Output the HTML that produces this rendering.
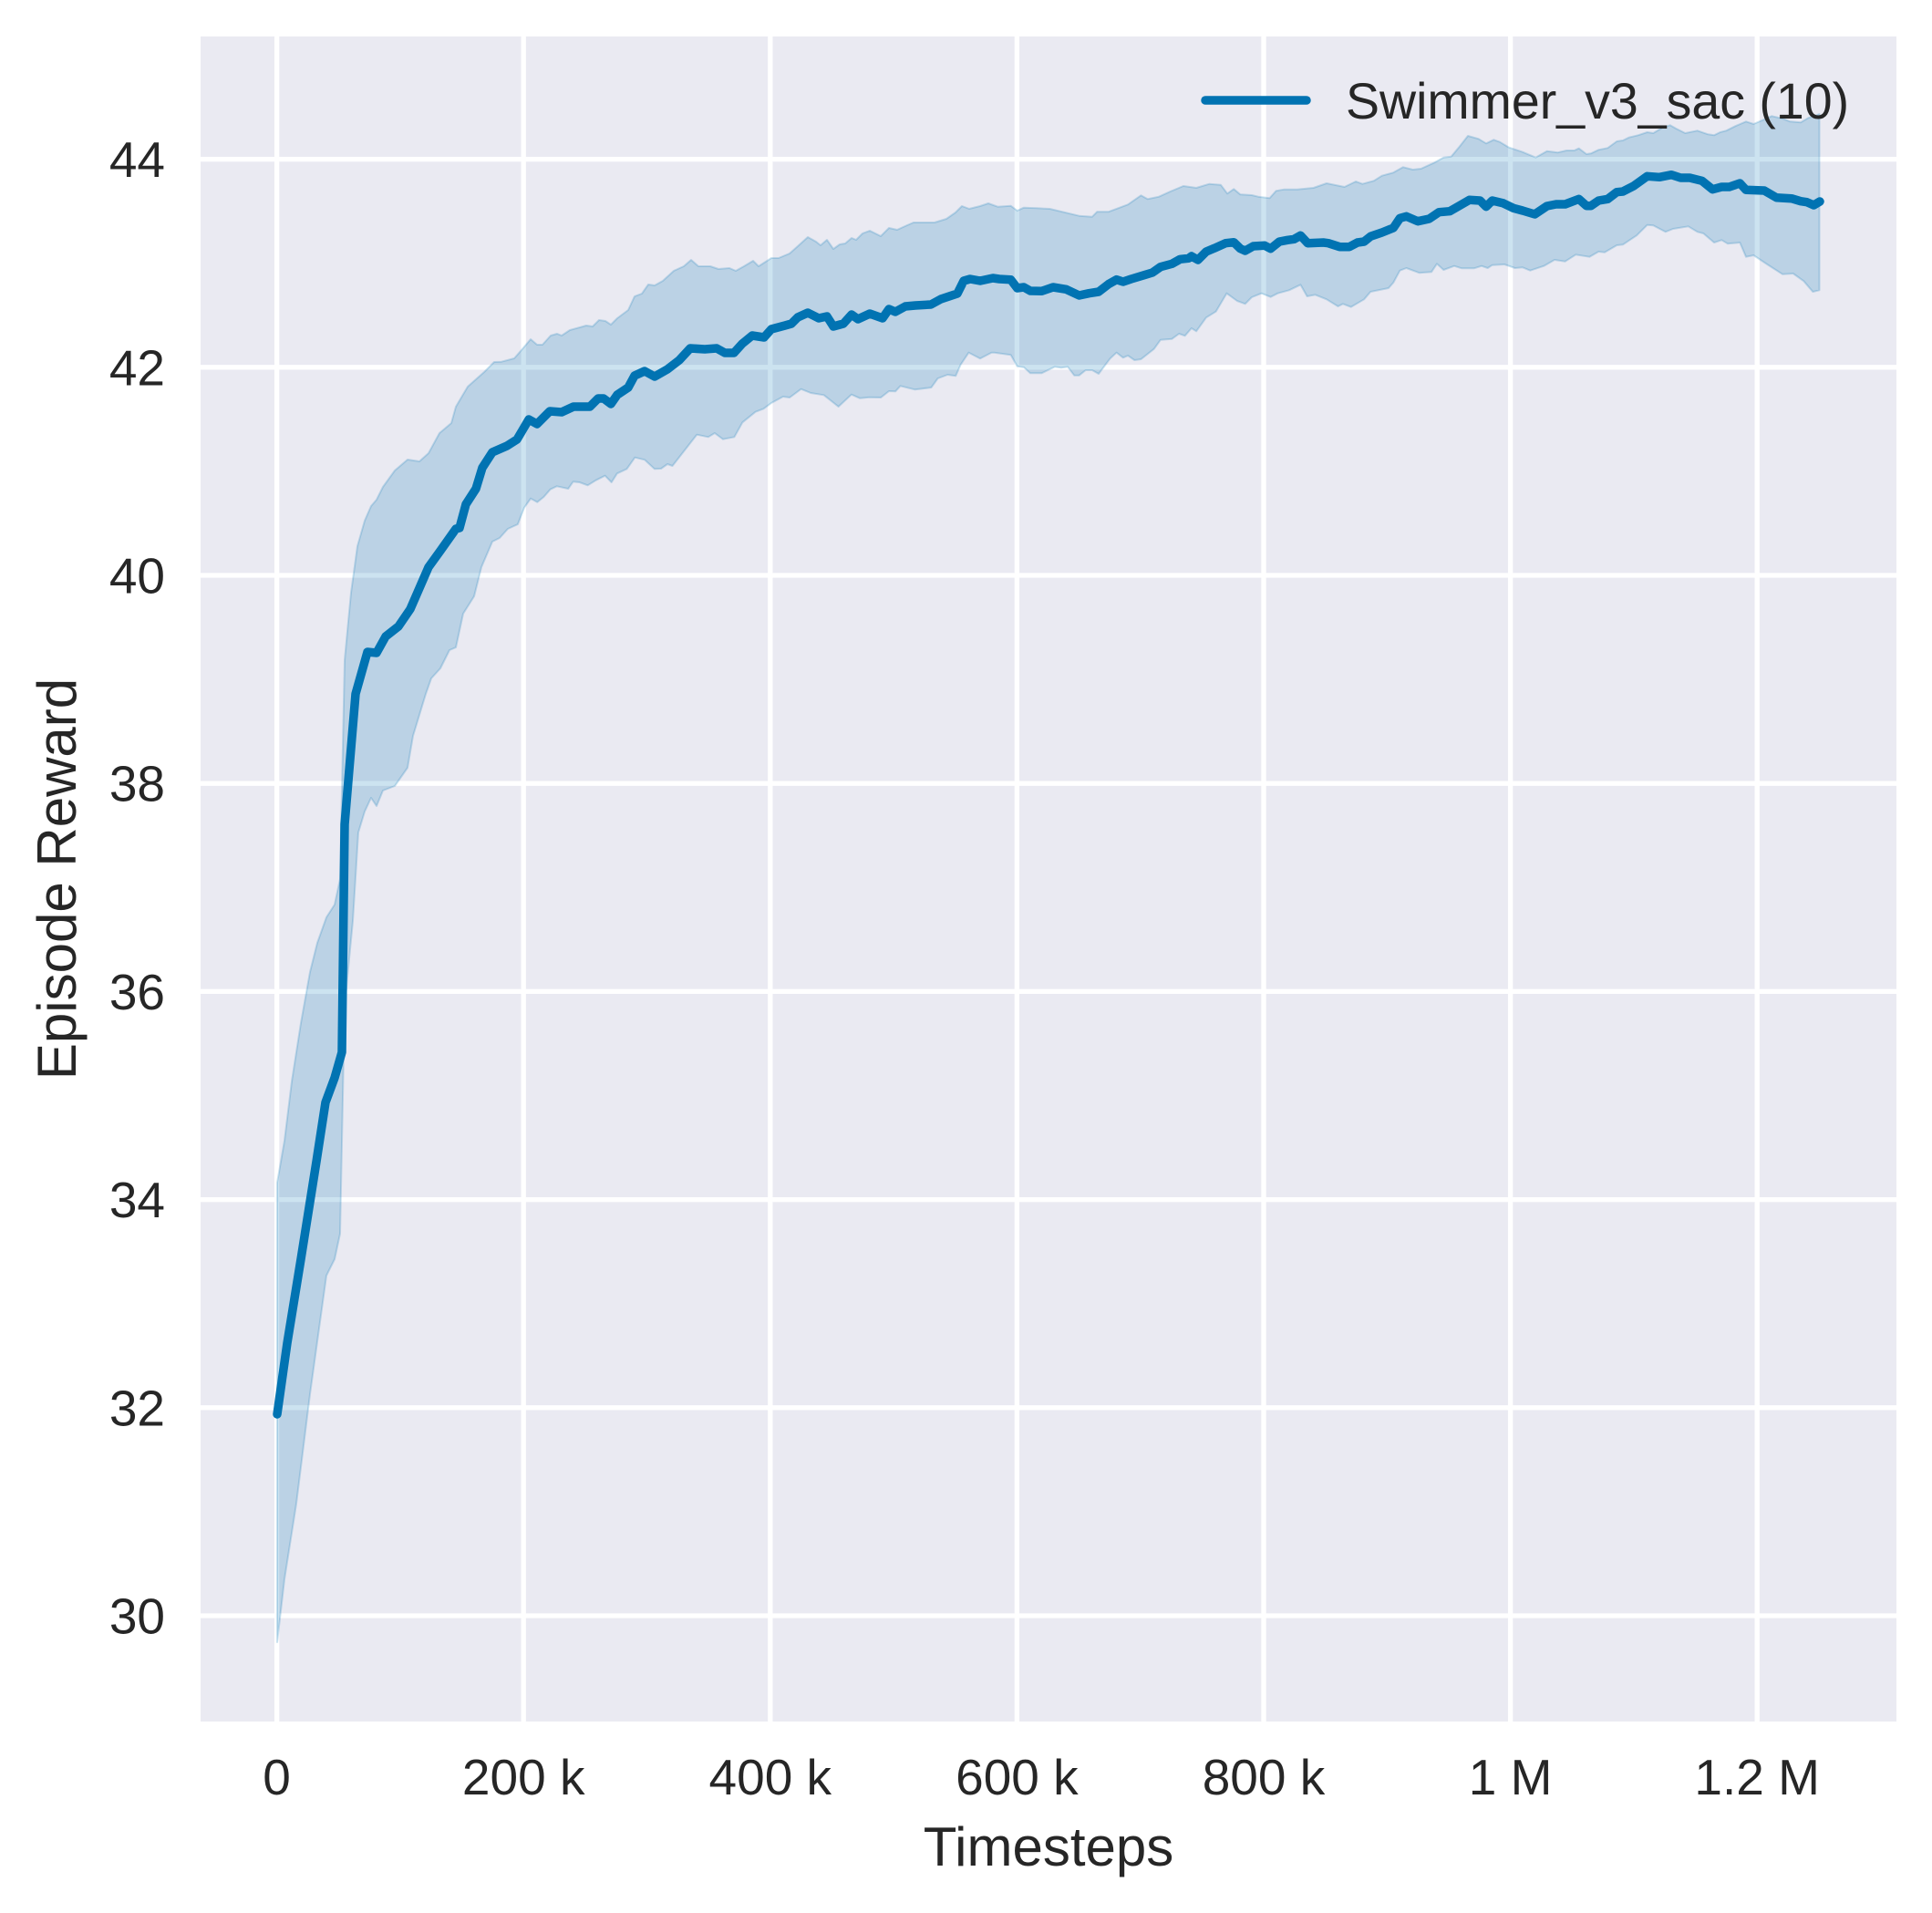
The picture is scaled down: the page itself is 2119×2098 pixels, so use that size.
<!DOCTYPE html>
<html>
<head>
<meta charset="utf-8">
<style>
  html, body { margin: 0; padding: 0; background: #ffffff; }
  svg { display: block; }
  text { font-family: "Liberation Sans", "DejaVu Sans", sans-serif; fill: #262626; }
</style>
</head>
<body>
<svg width="2119" height="2098" viewBox="0 0 2119 2098" xmlns="http://www.w3.org/2000/svg">
  <rect x="0" y="0" width="2119" height="2098" fill="#ffffff"/>
  <defs>
    <clipPath id="ax"><rect x="220" y="40" width="1860" height="1848"/></clipPath>
  </defs>
  <!-- axes background -->
  <rect x="220" y="40" width="1860" height="1848" fill="#EAEAF2"/>
  <!-- grid -->
  <g stroke="#ffffff" stroke-width="5.3" clip-path="url(#ax)">
    <line x1="220" x2="2080" y1="1772" y2="1772"/>
    <line x1="220" x2="2080" y1="1543.8" y2="1543.8"/>
    <line x1="220" x2="2080" y1="1315.6" y2="1315.6"/>
    <line x1="220" x2="2080" y1="1087.4" y2="1087.4"/>
    <line x1="220" x2="2080" y1="859.2" y2="859.2"/>
    <line x1="220" x2="2080" y1="631" y2="631"/>
    <line x1="220" x2="2080" y1="402.8" y2="402.8"/>
    <line x1="220" x2="2080" y1="174.6" y2="174.6"/>
    <line y1="40" y2="1888" x1="303.6" x2="303.6"/>
    <line y1="40" y2="1888" x1="574.2" x2="574.2"/>
    <line y1="40" y2="1888" x1="844.8" x2="844.8"/>
    <line y1="40" y2="1888" x1="1115.4" x2="1115.4"/>
    <line y1="40" y2="1888" x1="1386" x2="1386"/>
    <line y1="40" y2="1888" x1="1656.6" x2="1656.6"/>
    <line y1="40" y2="1888" x1="1927.2" x2="1927.2"/>
  </g>

  <g clip-path="url(#ax)">
    <!-- confidence band -->
    <path fill="#0173b2" fill-opacity="0.2" stroke="#0173b2" stroke-opacity="0.2" stroke-width="2" stroke-linejoin="round" d="
M304,1297 L312,1251 L320,1186 L330,1122 L340,1066 L348,1034 L358,1006 L367,992 L373,964 L378,724 L385,650 L392,599 L400,571 L407,555 L413,548 L420,534 L433,516 L447,504 L460,506 L470,497 L482,475 L495,464 L500,446 L513,424 L531,408 L542,397 L550,396.7 L564,393 L571,385 L582,372 L589,378 L595,378 L604,368 L611,366 L616,368 L625,362 L636,359 L643,357 L650,358 L657,351 L664,352 L670,356 L677,349 L689,340 L696,325 L704,322 L711,312 L718,313 L727,308 L739,297 L750,292 L758,285 L766,292 L779,292 L788,295 L800,294 L807,297 L816,292 L826,286 L832,292 L846,283 L854,283 L866,278 L875,270 L886,260 L895,265 L900,269 L907,263 L914,273 L921,268 L927,267 L934,261 L939,263 L946,256 L954,253 L966,259 L975,250 L984,252 L995,247 L1002,244 L1025,244 L1038,240 L1048,233 L1055,226 L1063,229 L1075,226 L1084,223 L1094.3,226.7 L1108.6,225.7 L1115.7,231 L1122.9,227.7 L1137.1,228.3 L1151.4,229 L1169.3,233.3 L1183.6,236.7 L1197.9,237.7 L1203.2,232.3 L1215.7,232.3 L1237.1,224.3 L1251.4,214.3 L1258.6,218.3 L1271.1,215.7 L1283.6,210 L1297.9,204 L1312.1,206 L1326.4,201.7 L1338.9,202.7 L1346.1,212.3 L1353.2,207.3 L1360.4,213.3 L1372.9,214 L1380,215.7 L1392.5,217.3 L1399.6,209.3 L1408.6,207.7 L1422.9,207.7 L1440.7,206 L1455,201 L1474.6,205 L1487.1,199 L1494.3,201.7 L1506.8,198.3 L1515.7,192.7 L1528.2,189.3 L1538.9,183.3 L1549.6,186 L1558.6,185 L1573.3,178.3 L1583.3,172.7 L1591.7,171.7 L1600,161.7 L1610,149 L1621.7,152.3 L1630,157.3 L1638.3,153.3 L1645,155.7 L1655,161.7 L1670,166.7 L1684.3,172.7 L1696.7,165.7 L1708.3,167.3 L1718.3,165 L1726.7,165 L1731.7,162.7 L1740,169 L1745,168.3 L1753.3,164.3 L1763.3,162.3 L1773.3,155 L1780,154 L1786.7,150.7 L1796.7,148.3 L1806.7,145 L1813.3,146 L1823.3,140 L1831.7,137.3 L1838.3,141 L1848.3,146 L1861.7,143.3 L1873.3,147.3 L1880,148.3 L1886.7,145 L1893.3,143.3 L1903.3,138.3 L1915,133.3 L1923.3,136 L1933.3,131.7 L1943.3,127.3 L1955,130 L1963.3,133.3 L1975,134.3 L1983.3,129.3 L1990,127.3 L1995.5,125
L1995.5,318.3 L1988.3,320 L1978.3,308.3 L1966.7,300 L1955,300.7 L1938.3,290 L1923.3,280 L1915,281.7 L1908.3,266 L1895,267.3 L1888.3,263.3 L1880,266 L1868.3,256 L1861.7,254.3 L1851.7,248.3 L1835,251 L1826.7,254.3 L1813.3,247.3 L1806.7,246.7 L1795,258.3 L1788.3,262.7 L1780,268.3 L1773.3,269 L1760,276.7 L1753.3,276 L1743.3,281.7 L1728.3,279.3 L1716.7,286.7 L1705,285 L1693.3,291.7 L1678.3,296.7 L1670,293.3 L1661.7,294 L1650,290 L1636.7,290.7 L1631.7,294 L1625,291.7 L1616.7,294.3 L1603.3,294.3 L1595,291.7 L1583.3,296 L1576,289.3 L1570,298.3 L1556.8,299.3 L1542.5,294 L1535.4,296.7 L1528.2,310 L1522.9,316 L1503.2,320 L1496.1,328.3 L1481.8,336.7 L1472.9,333.3 L1467.5,336 L1455,328.3 L1442.5,323.3 L1433.6,325 L1426.4,312.3 L1413.9,318.3 L1401.4,321.7 L1393.6,325.7 L1383.6,321.7 L1372.9,326 L1365.7,333.3 L1356.8,330 L1345.4,321.7 L1333.6,341.7 L1322.9,348.3 L1312.1,363.3 L1306.8,360 L1299.6,368.3 L1293.2,366 L1285.4,371.7 L1272.9,372.7 L1265.7,382.7 L1251.4,394 L1244.3,395 L1237.1,390 L1231.8,392.3 L1224.6,386.7 L1217.5,393.3 L1205,410 L1197.9,406 L1190.7,406 L1183.6,411.7 L1178.2,411.7 L1171.1,402.3 L1163.9,403.3 L1156.8,402.3 L1142.5,409.3 L1130,409.3 L1122.9,402.7 L1115.7,401.7 L1108.6,389.3 L1090.7,386.7 L1087.5,386.7 L1075,393.3 L1062.5,386.7 L1053.6,400 L1048.2,412.3 L1039.3,411 L1028.6,415 L1021.4,425 L1003.6,427.3 L987.5,423.3 L982.1,429.3 L975,429 L966.1,436 L953.6,435.7 L942.9,436.7 L933.9,432.7 L919.6,446 L903.6,433.3 L889.3,431 L878.6,426.7 L866.1,436 L858.9,435 L846.4,441.7 L837.5,448.3 L828.6,451.7 L814.3,463.3 L805.4,479.3 L792.9,481.7 L783.9,475 L776.8,479.3 L764.3,476.7 L737.5,511 L732.1,509 L725,514 L717.9,514.3 L707.1,504.3 L696.4,501.7 L687.5,514.3 L676.8,519.3 L670.7,529 L663.6,521.7 L653.6,526.7 L644.6,532.3 L635.7,529 L628.6,528.3 L623.2,536 L610.7,533.3 L603.6,536.7 L596.4,545 L589.3,550.7 L582.1,546.7 L575,556.7 L567.9,575 L557,580 L548,590 L540,594 L528,622 L520,654 L508,673 L500,710 L493,713 L483,733 L473,744 L467,761 L453,807 L447,842 L433,862 L420,867 L413,884 L407,875 L400,890 L393,913 L387,1010 L378,1103 L373,1353 L367,1381 L358,1399 L340,1529 L325,1649 L312,1732 L304,1801 Z"/>

    <!-- mean line -->
    <polyline fill="none" stroke="#0173b2" stroke-width="9.5" stroke-linejoin="round" stroke-linecap="round" points="
304,1551 315,1473 330,1381 347,1274 357,1209 367,1182 375,1154 378,904 390,761 403,715 413,716 423,698 437,687 450,668 470,622 483,604 500,580 504,579 511,553 522,536 529,513 540,496 556,489 567,482 580,460 589,465 603,451 616,452 629,446 647,446 656,437 662,437 670,443 677,433 689,425 696,412 707,407 718,413 732,405 745,395 757,382 773,383 786,382 795,387 805,387 814,377 825,368 838,370 846,361 861,357 868,355 875,348 886,343 898,349 907,347 914,358 925,355 934,345 941,350 954,344 968,349 975,339 982,342 993,336 1004,335 1021,334 1032,328 1050,322 1057,308 1064,306 1075,308 1089,305 1096,306 1108.6,306.7 1115.7,316 1122.9,315 1130,319 1142.5,319.3 1155,315 1169.3,317.3 1183.6,324 1194.3,321.7 1205,320 1215.7,311.7 1224.6,306.7 1231.8,309 1240.7,306 1255,301.7 1263.9,299 1272.9,292.7 1285.4,289.3 1294.3,284.3 1303.6,283.3 1306.8,281 1313.9,285 1322.9,276 1331.8,272.3 1344.3,266.7 1353.2,265.7 1360.4,272.7 1365.7,275 1374.6,270 1387.1,269.3 1393.6,272.7 1403.2,265 1412.1,263.3 1419.3,262.3 1426.4,258.3 1434.3,266.7 1451.4,266 1456.8,266.7 1469.3,270.7 1480,270.7 1488.9,266 1496.1,265 1503.2,259.3 1515.7,255 1528.2,250 1535.4,239.3 1542.5,237.3 1555,242.7 1567.5,240 1578.3,232.7 1590,231.7 1600,226 1611.7,219.3 1623.3,220 1630,226.7 1636.7,220 1648.3,222.7 1660,228.3 1670,231 1683.3,235 1696.7,226 1706.7,224 1716.7,224 1731.7,218.3 1740,225.7 1745,225.7 1753.3,220 1763.3,218.3 1773.3,210.7 1780,210 1791.7,204 1806.7,193.3 1820,194.3 1833.3,191.7 1843.3,195 1853.3,195 1866.7,198.3 1878.3,207.7 1888.3,205 1896.7,205 1908.3,201 1915,208.3 1935,209 1948.3,216.7 1965,217.7 1975,220.7 1981.7,221.7 1989.3,225 1996,221"/>
  </g>

  <!-- legend -->
  <line x1="1322" y1="110" x2="1433" y2="110" stroke="#0173b2" stroke-width="9.5" stroke-linecap="round"/>
  <text x="1476" y="130" font-size="55.5">Swimmer_v3_sac (10)</text>

  <!-- y tick labels -->
  <g font-size="55" text-anchor="end">
    <text x="181" y="1791.5">30</text>
    <text x="181" y="1563.3">32</text>
    <text x="181" y="1335.1">34</text>
    <text x="181" y="1106.9">36</text>
    <text x="181" y="878.7">38</text>
    <text x="181" y="650.5">40</text>
    <text x="181" y="422.3">42</text>
    <text x="181" y="194.1">44</text>
  </g>

  <!-- x tick labels -->
  <g font-size="55" text-anchor="middle">
    <text x="303.6" y="1968">0</text>
    <text x="574.2" y="1968">200 k</text>
    <text x="844.8" y="1968">400 k</text>
    <text x="1115.4" y="1968">600 k</text>
    <text x="1386" y="1968">800 k</text>
    <text x="1656.6" y="1968">1 M</text>
    <text x="1927.2" y="1968">1.2 M</text>
  </g>

  <!-- axis labels -->
  <text x="1150" y="2046" font-size="60" text-anchor="middle">Timesteps</text>
  <text transform="translate(83,964) rotate(-90)" font-size="60" text-anchor="middle">Episode Reward</text>
</svg>
</body>
</html>
